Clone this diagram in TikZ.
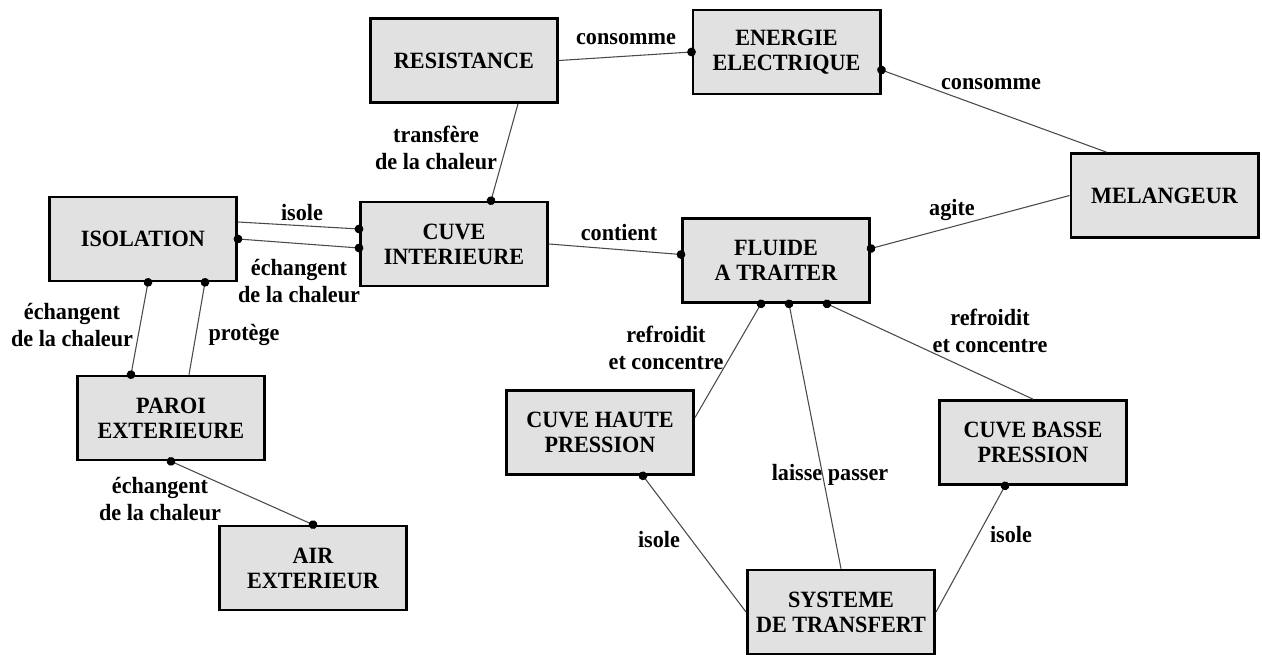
\documentclass[tikz,border=0pt]{standalone}
\usepackage{fontspec}
\setmainfont{Liberation Serif}[FakeStretch=0.95]
\usepackage{tikz}
\usetikzlibrary{calc,arrows.meta}
\definecolor{boxfill}{HTML}{E1E1E1}
\definecolor{wire}{HTML}{4A4A4A}
\tikzset{
  concept/.style={draw=black, line width=2pt, fill=boxfill, minimum width=140.5pt, minimum height=63pt, align=center, inner sep=2pt, font=\bfseries\fontsize{17.5}{18.75}\selectfont},
  link/.style={draw=wire, line width=0.8pt},
  dotend/.style={-{Circle[length=6.5pt,color=black]}, shorten >=-3.25pt},
  dotboth/.style={{Circle[length=6.5pt,color=black]}-{Circle[length=6.5pt,color=black]}, shorten <=-3.25pt, shorten >=-3.25pt},
  lab/.style={align=center, inner sep=0pt, font=\bfseries\fontsize{17.5}{20.25}\selectfont},
}

\begin{document}
\begin{tikzpicture}[x=0.75pt, y=-0.75pt]
  \useasboundingbox[fill=white] (0,0) rectangle (1262,655);

  \node[concept] (res) at (464,60.5) {RESISTANCE};
  \node[concept] (ene) at (786.5,52) {ENERGIE\\ELECTRIQUE};
  \node[concept] (mel) at (1164.5,195.5) {MELANGEUR};
  \node[concept] (iso) at (143,239) {ISOLATION};
  \node[concept] (cuve) at (454,244) {CUVE\\INTERIEURE};
  \node[concept] (flu) at (776,260.5) {FLUIDE\\A TRAITER};
  \node[concept] (paroi) at (171,418) {PAROI\\EXTERIEURE};
  \node[concept] (air) at (313,568) {AIR\\EXTERIEUR};
  \node[concept] (haute) at (600,432.5) {CUVE HAUTE\\PRESSION};
  \node[concept] (basse) at (1033,442.5) {CUVE BASSE\\PRESSION};
  \node[concept] (sys) at (841,612) {SYSTEME\\DE TRANSFERT};

  % liaisons
  \draw[link,dotend] (res.east) -- (ene.west);
  \draw[link,dotend] ($(mel.north)+(-58,0)$) -- ($(ene.east)+(0,18)$);
  \draw[link,dotend] (mel.west) -- ($(flu.east)+(0,-12)$);
  \draw[link,dotend] (cuve.east) -- ($(flu.west)+(0,-6)$);
  \draw[link,dotend] ($(res.south)+(54,0)$) -- ($(cuve.north)+(37,0)$);
  \draw[link,dotend] ($(iso.east)+(0,-17)$) -- ($(cuve.west)+(0,-15)$);
  \draw[link,dotboth] (iso.east) -- ($(cuve.west)+(0,4)$);
  \draw[link,dotboth] ($(iso.south)+(5,0)$) -- ($(paroi.north)+(-40,0)$);
  \draw[link,dotend] ($(paroi.north)+(18,0)$) -- ($(iso.south)+(62,0)$);
  \draw[link,dotboth] (paroi.south) -- (air.north);
  \draw[link,dotend] ($(haute.east)+(0,-15)$) -- ($(flu.south)+(-15,0)$);
  \draw[link,dotend] (sys.north) -- ($(flu.south)+(13,0)$);
  \draw[link,dotend] (basse.north) -- ($(flu.south)+(51,0)$);
  \draw[link,dotend] (sys.west) -- ($(haute.south)+(43,0)$);
  \draw[link,dotend] (sys.east) -- ($(basse.south)+(-28,0)$);

  % textes des liaisons
  \node[lab] (l1) at (626,39) {consomme};
  \node[lab] (l2) at (991,84) {consomme};
  \node[lab] (l3) at (952,210) {agite};
  \node[lab] (l4) at (619,233) {contient};
  \node[lab] (l5) at (436,148) {transfère\\de la chaleur};
  \node[lab] (l6) at (302,213) {isole};
  \node[lab] (l7) at (299,281) {échangent\\de la chaleur};
  \node[lab] (l8) at (72,325) {échangent\\de la chaleur};
  \node[lab] (l9) at (244,335) {protège};
  \node[lab] (l10) at (160,499) {échangent\\de la chaleur};
  \node[lab] (l11) at (666,348) {refroidit\\et concentre};
  \node[lab] (l12) at (990,331) {refroidit\\et concentre};
  \node[lab] (l13) at (830,475) {laisse passer};
  \node[lab] (l14) at (659,540) {isole};
  \node[lab] (l15) at (1011,535) {isole};
\end{tikzpicture}
\end{document}
